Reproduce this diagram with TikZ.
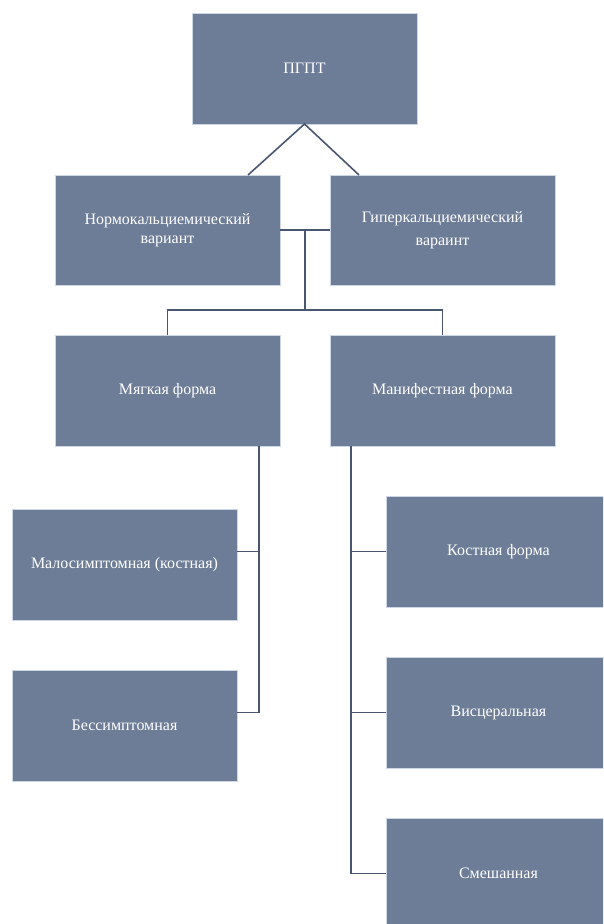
\documentclass[tikz,border=0pt]{standalone}
\usepackage{fontspec}
\setmainfont{Liberation Serif}
\usepackage{tikz}
\usetikzlibrary{positioning,calc}
\definecolor{boxfill}{RGB}{109,125,151}
\definecolor{boxedge}{RGB}{205,214,228}
\definecolor{lnc}{RGB}{72,86,112}
\tikzset{
  bx/.style={rectangle,draw=boxedge,line width=0.6pt,fill=boxfill,minimum width=225pt,minimum height=111pt,inner sep=0pt,outer sep=0pt,align=center,text=white,font=\fontsize{16}{18.5}\selectfont},
  ln/.style={draw=lnc,line width=1.6pt},
}
\begin{document}
\begin{tikzpicture}[x=1pt,y=1pt,node distance=50pt]
  \path[use as bounding box,clip] (0,0) rectangle (603,-924);
  \node[bx] (pgpt) at (304.5,-68.5) {ПГПТ};
  \node[bx,minimum height=110pt] (normo) at (167.5,-230) {Нормокальциемический\\вариант};
  \node[bx,minimum height=110pt,right=of normo] (giper) {Гиперкальциемический\\[4pt]вараинт};
  \node[bx,below=of normo] (soft) {Мягкая форма};
  \node[bx,right=of soft] (manif) {Манифестная форма};
  \node[bx] (malo) at (124.5,-564.5) {Малосимптомная (костная)};
  \node[bx,below=of malo] (bess) {Бессимптомная};
  \node[bx] (kost) at (498.5,-551.5) {Костная форма};
  \node[bx,below=of kost] (visc) {Висцеральная};
  \node[bx,below=of visc] (smesh) {Смешанная};
  \coordinate (nl) at ($(normo.north east)+(-32,0)$);
  \coordinate (gl) at ($(giper.north west)+(29,0)$);
  \draw[ln] (nl) -- (pgpt.south) -- (gl);
  \draw[ln] (normo.east) -- (giper.west);
  \coordinate (mid) at ($(normo.east)!0.5!(giper.west)$);
  \coordinate (tee) at ($(soft.north)+(0,25)$);
  \draw[ln] (mid) -- (mid |- tee);
  \draw[ln] (soft.north) -- (tee) -| (manif.north);
  \coordinate (sv) at ($(soft.south east)+(-21,0)$);
  \draw[ln] (sv) -- (sv |- visc.west) -- (bess.east |- visc.west);
  \draw[ln] (sv |- kost.west) -- (malo.east |- kost.west);
  \coordinate (mv) at ($(manif.south west)+(21,0)$);
  \draw[ln] (mv) -- (mv |- smesh.west) -- (smesh.west);
  \draw[ln] (mv |- kost.west) -- (kost.west);
  \draw[ln] (mv |- visc.west) -- (visc.west);
\end{tikzpicture}
\end{document}
